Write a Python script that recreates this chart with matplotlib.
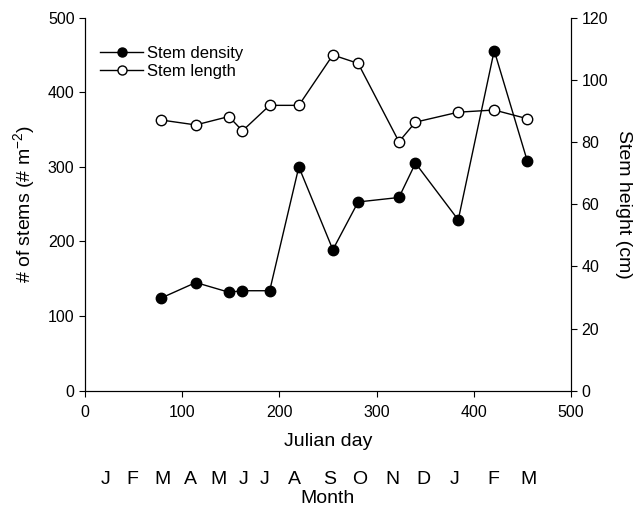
import matplotlib
matplotlib.use("Agg")
import matplotlib.pyplot as plt

plt.rcParams['font.family'] = ['Liberation Sans', 'DejaVu Sans']

# Julian day of each sampling
julian_day = [78, 114, 148, 162, 190, 220, 255, 281, 323, 340, 384, 421, 455]

# Stem density (# m-2), left axis
stem_density = [124, 145, 132, 134, 134, 300, 189, 253, 259, 305, 229, 456, 308]

# Stem length (cm), right axis
stem_length = [87.1, 85.5, 88.2, 83.6, 91.8, 91.8, 108.0, 105.3, 80.1, 86.4, 89.6, 90.3, 87.5]

# month letters under the julian day axis
month_labels = ["J", "F", "M", "A", "M", "J", "J", "A", "S", "O", "N", "D", "J", "F", "M"]
month_pos = [21, 49, 80, 109, 137, 163, 185, 216, 252, 283, 316, 348, 380, 420, 456]

fig = plt.figure(figsize=(6.38, 5.07), dpi=100)
ax = fig.add_axes([0.1332, 0.2294, 0.7618, 0.7357])
ax2 = ax.twinx()

l1, = ax.plot(julian_day, stem_density, '-o', color='black', mfc='black', mec='black',
              ms=7.5, lw=1, label='Stem density')
l2, = ax2.plot(julian_day, stem_length, '-o', color='black', mfc='white', mec='black',
               ms=7.5, lw=1, mew=1, label='Stem length')

ax.set_xlim(0, 500)
ax.set_ylim(0, 500)
ax2.set_ylim(0, 120)
ax.set_xticks(range(0, 501, 100))
ax.set_yticks(range(0, 501, 100))
ax2.set_yticks(range(0, 121, 20))

for a in (ax, ax2):
    a.spines['top'].set_visible(False)
    a.tick_params(labelsize=11.5, length=4, width=0.8, direction='out')
ax.tick_params(axis='x', pad=6)

ax.set_xlabel("Julian day", fontsize=14, labelpad=10)
ax.set_ylabel("# of stems (# m$^{\\mathregular{-2}}$)", fontsize=14, labelpad=7)
ax2.set_ylabel("Stem height (cm)", fontsize=14, rotation=270, labelpad=17)

# month row
tr = ax.get_xaxis_transform()
for m, p in zip(month_labels, month_pos):
    ax.text(p, -0.237, m, transform=tr, ha='center', va='center', fontsize=14)
ax.text(250, -0.289, "Month", transform=tr, ha='center', va='center', fontsize=14)

leg = ax.legend(handles=[l1, l2], loc='upper left', bbox_to_anchor=(0.0, 0.965),
                frameon=False, fontsize=12, handlelength=2.6, handletextpad=0.25,
                labelspacing=0.2)
for h in leg.legend_handles:
    h.set_markersize(6.5)

fig.savefig("out.png", dpi=100)
